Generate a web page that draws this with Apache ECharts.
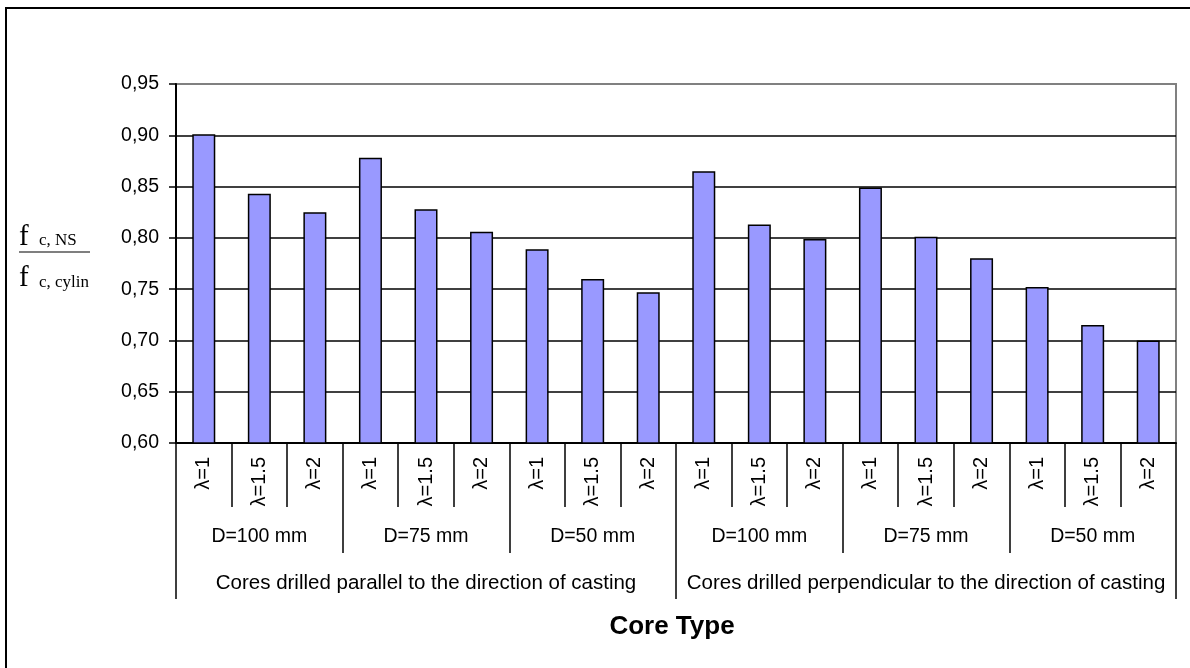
<!DOCTYPE html>
<html>
<head>
<meta charset="utf-8">
<script src="https://cdn.jsdelivr.net/npm/echarts@6/dist/echarts.min.js"></script>
<style>
html,body{margin:0;padding:0;background:#fff;}
#chart{width:1190px;height:668px;}
</style>
</head>
<body>
<div id="chart"></div>
<script>
// ---- data ----
const lambdaLabels = ['λ=1','λ=1.5','λ=2','λ=1','λ=1.5','λ=2','λ=1','λ=1.5','λ=2',
                      'λ=1','λ=1.5','λ=2','λ=1','λ=1.5','λ=2','λ=1','λ=1.5','λ=2'];
const diameterLabels = ['D=100 mm','D=75 mm','D=50 mm','D=100 mm','D=75 mm','D=50 mm'];
const orientationLabels = ['Cores drilled parallel to the direction of casting',
                           'Cores drilled perpendicular to the direction of casting'];
const parallelValues = [0.901, 0.843, 0.825, 0.878, 0.828, 0.806, 0.789, 0.760, 0.747];
const perpendicularValues = [0.865, 0.813, 0.799, 0.849, 0.801, 0.780, 0.752, 0.715, 0.700];
const yMin = 0.60, yMax = 0.95, yStep = 0.05;
const xTitle = 'Core Type';

const allValues = parallelValues.concat(perpendicularValues);
const FONT = "'Liberation Sans', Arial, sans-serif";
const SERIF = "'Liberation Serif', 'Times New Roman', serif";

const chart = echarts.init(document.getElementById('chart'));
const baseCat = {
  type: 'category',
  position: 'bottom',
  gridIndex: 0,
  boundaryGap: true,
  axisLine: { show: false },
  splitLine: { show: false }
};
chart.setOption({
  animation: false,
  backgroundColor: '#fff',
  grid: { left: 176, right: 14, top: 84, bottom: 225, show: true, borderColor: '#808080', borderWidth: 2, backgroundColor: 'transparent' },
  xAxis: [
    Object.assign({}, baseCat, {
      data: lambdaLabels,
      axisLine: { show: true, lineStyle: { color: '#000', width: 2 } },
      axisTick: { show: true, interval: 0, length: 64, lineStyle: { color: '#000', width: 1.5 } },
      axisLabel: { interval: 0, rotate: 90, margin: 14, color: '#000', fontFamily: FONT, fontSize: 20 }
    }),
    Object.assign({}, baseCat, {
      data: diameterLabels,
      axisTick: { show: true, interval: 0, length: 110, lineStyle: { color: '#000', width: 1.5 } },
      axisLabel: { interval: 0, margin: 84, color: '#000', fontFamily: FONT, fontSize: 19.5 }
    }),
    Object.assign({}, baseCat, {
      data: orientationLabels,
      axisTick: { show: true, interval: 0, length: 156, lineStyle: { color: '#000', width: 1.5 } },
      axisLabel: { interval: 0, margin: 130, color: '#000', fontFamily: FONT, fontSize: 20.5 }
    })
  ],
  yAxis: {
    type: 'value',
    min: yMin, max: yMax, interval: yStep,
    axisLine: { show: true, lineStyle: { color: '#000', width: 2 } },
    axisTick: { show: true, length: 7, lineStyle: { color: '#000', width: 1.5 } },
    axisLabel: { color: '#000', fontFamily: FONT, fontSize: 19.5, margin: 17,
      formatter: v => v.toFixed(2).replace('.', ',') },
    splitLine: { show: true, showMaxLine: false, lineStyle: { color: '#000', width: 1.5 } }
  },
  series: [{
    type: 'bar',
    xAxisIndex: 0,
    data: allValues,
    barWidth: 23,
    itemStyle: { color: '#9999FF', borderColor: '#000', borderWidth: 1.5 }
  }],
  graphic: [
    { type: 'rect', shape: { x: 6, y: 8, width: 1300, height: 800 }, style: { fill: 'none', stroke: '#000', lineWidth: 2 }, silent: true },
    { type: 'text', x: 672, y: 627, style: { text: xTitle, font: "bold 26px " + FONT, fill: '#000', textAlign: 'center', textVerticalAlign: 'middle' } },
    { type: 'text', x: 19, y: 237, style: { text: 'f', font: "29px " + SERIF, fill: '#000', textAlign: 'left', textVerticalAlign: 'middle' } },
    { type: 'text', x: 39, y: 241, style: { text: 'c, NS', font: "17px " + SERIF, fill: '#000', textAlign: 'left', textVerticalAlign: 'middle' } },
    { type: 'line', shape: { x1: 19, y1: 252, x2: 90, y2: 252 }, style: { stroke: '#000', lineWidth: 1.2 } },
    { type: 'text', x: 19, y: 278, style: { text: 'f', font: "29px " + SERIF, fill: '#000', textAlign: 'left', textVerticalAlign: 'middle' } },
    { type: 'text', x: 39, y: 283, style: { text: 'c, cylin', font: "17px " + SERIF, fill: '#000', textAlign: 'left', textVerticalAlign: 'middle' } }
  ]
});
</script>
</body>
</html>
